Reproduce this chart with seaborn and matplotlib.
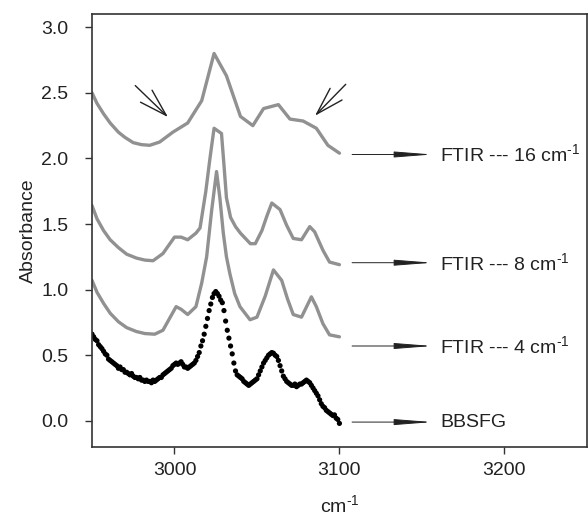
import matplotlib
matplotlib.use("Agg")
import matplotlib.pyplot as plt
import numpy as np
import seaborn as sns

# FTIR spectra (offset for display)
x16 = [2950, 2953, 2957, 2961, 2966, 2970, 2975, 2980, 2985, 2991, 2999, 3008,
       3016.5, 3024, 3031.5, 3040, 3047.5, 3054, 3063, 3070, 3078, 3086, 3093, 3100]
y16 = [2.50, 2.42, 2.34, 2.27, 2.20, 2.16, 2.12, 2.105, 2.10, 2.125, 2.20, 2.27,
       2.44, 2.80, 2.63, 2.32, 2.25, 2.38, 2.41, 2.30, 2.285, 2.23, 2.10, 2.04]

x8 = [2950, 2953, 2957, 2961, 2966, 2971, 2977, 2982, 2987, 2993, 3000, 3004,
      3008, 3013, 3015.5, 3019, 3021.5, 3024, 3028.5, 3030, 3031.5, 3034, 3037,
      3040, 3046, 3049, 3053, 3056, 3059, 3064, 3068, 3072, 3077, 3082, 3085,
      3090, 3094, 3100]
y8 = [1.64, 1.54, 1.45, 1.38, 1.32, 1.27, 1.24, 1.225, 1.22, 1.275, 1.40, 1.40,
      1.38, 1.43, 1.47, 1.75, 2.00, 2.23, 2.19, 1.95, 1.70, 1.55, 1.48,
      1.43, 1.35, 1.35, 1.45, 1.56, 1.66, 1.61, 1.49, 1.39, 1.38, 1.48, 1.44,
      1.30, 1.21, 1.19]

x4 = [2950, 2953, 2957, 2961, 2966, 2971, 2977, 2982, 2988, 2993, 3001, 3004,
      3008, 3013, 3016.5, 3019.5, 3022.5, 3025.5, 3027.5, 3029.6, 3031.5, 3033.6,
      3036.5, 3039.7, 3045.8, 3050, 3055, 3060, 3065, 3068.5, 3072, 3077, 3083,
      3086, 3090, 3094, 3100]
y4 = [1.07, 0.98, 0.895, 0.82, 0.755, 0.71, 0.68, 0.665, 0.66, 0.69, 0.87, 0.85,
      0.81, 0.87, 1.05, 1.25, 1.60, 1.90, 1.70, 1.43, 1.25, 1.12,
      0.97, 0.87, 0.77, 0.79, 0.95, 1.15, 1.07, 0.93, 0.81, 0.79, 0.945,
      0.87, 0.74, 0.655, 0.64]

# BBSFG spectrum, one point per cm-1 from 2950 to 3100
x_sfg = np.arange(2950, 3101)
y_sfg = [0.66, 0.64, 0.62, 0.61, 0.58, 0.565, 0.55, 0.53, 0.51, 0.50,
         0.47, 0.46, 0.45, 0.44, 0.43, 0.42, 0.40, 0.41, 0.39, 0.39,
         0.37, 0.37, 0.36, 0.35, 0.36, 0.34, 0.33, 0.33, 0.32, 0.33,
         0.31, 0.31, 0.30, 0.31, 0.30, 0.30, 0.29, 0.31, 0.30, 0.31,
         0.32, 0.33, 0.33, 0.35, 0.36, 0.37, 0.38, 0.39, 0.40, 0.42,
         0.43, 0.44, 0.43, 0.44, 0.45, 0.43, 0.41, 0.41, 0.40, 0.41,
         0.42, 0.43, 0.44, 0.46, 0.49, 0.52, 0.57, 0.61, 0.66, 0.72,
         0.78, 0.84, 0.89, 0.94, 0.97, 0.985, 0.97, 0.95, 0.92, 0.90,
         0.84, 0.76, 0.69, 0.63, 0.57, 0.51, 0.44, 0.38, 0.35, 0.34,
         0.33, 0.32, 0.30, 0.29, 0.28, 0.27, 0.28, 0.29, 0.30, 0.31,
         0.32, 0.35, 0.38, 0.41, 0.44, 0.46, 0.48, 0.50, 0.51, 0.52,
         0.515, 0.50, 0.49, 0.46, 0.42, 0.38, 0.34, 0.32, 0.30, 0.29,
         0.28, 0.27, 0.27, 0.28, 0.26, 0.27, 0.28, 0.28, 0.29, 0.30,
         0.31, 0.30, 0.29, 0.27, 0.25, 0.23, 0.21, 0.19, 0.16, 0.13,
         0.11, 0.10, 0.08, 0.07, 0.06, 0.05, 0.04, 0.045, 0.02, 0.01,
         -0.02]

labels = ["FTIR --- 16 cm$^{\\text{-1}}$", "FTIR --- 8 cm$^{\\text{-1}}$",
          "FTIR --- 4 cm$^{\\text{-1}}$", "BBSFG"]
label_y = [2.03, 1.205, 0.57, -0.01]

sns.set_style("ticks")
plt.rcParams["font.family"] = ["Liberation Sans", "DejaVu Sans"]
plt.rcParams["mathtext.default"] = "regular"
plt.rcParams["mathtext.fontset"] = "custom"
plt.rcParams["mathtext.rm"] = "Liberation Sans"

fig, ax = plt.subplots(figsize=(5.88, 5.23), dpi=100)
fig.subplots_adjust(left=0.1565, right=0.998, bottom=0.1453, top=0.973)

gray = "#919191"
for xs, ys in [(x16, y16), (x8, y8), (x4, y4)]:
    sns.lineplot(x=xs, y=ys, ax=ax, color=gray, linewidth=2.4, sort=False)
sns.scatterplot(x=x_sfg, y=y_sfg, ax=ax, color="black", s=14, edgecolor="none")

for lab, yy in zip(labels, label_y):
    ax.annotate("", xy=(3158, yy), xytext=(3106, yy),
                arrowprops=dict(arrowstyle="-|>,head_length=2.3,head_width=0.18",
                                color="#222222", lw=0.7, mutation_scale=10))
    ax.text(3161, yy, lab, va="center", ha="left", fontsize=14, color="#222222")

# pointer arrows at the shoulders of the 16 cm-1 spectrum
for start, tip in [((2975, 2.57), (2997.3, 2.30)), ((3105, 2.58), (3084, 2.31))]:
    ax.annotate("", xy=tip, xytext=start,
                arrowprops=dict(arrowstyle="->,head_length=2.0,head_width=0.6",
                                color="#222222", lw=1.0, mutation_scale=10))

ax.set_xlim(2950, 3250)
ax.set_ylim(-0.2, 3.1)
ax.set_xticks([3000, 3100, 3200])
ax.set_yticks([0.0, 0.5, 1.0, 1.5, 2.0, 2.5, 3.0])
ax.set_yticklabels(["0.0", "0.5", "1.0", "1.5", "2.0", "2.5", "3.0"])
ax.tick_params(direction="out", length=5, width=1.0, colors="#333333",
               labelsize=14, labelcolor="#222222", top=False, right=False)
ax.tick_params(axis="y", pad=12)
ax.tick_params(axis="x", pad=6)
for sp in ax.spines.values():
    sp.set_color("#333333")
    sp.set_linewidth(1.2)
ax.set_xlabel("cm$^{\\text{-1}}$", fontsize=14, color="#222222", labelpad=11)
ax.set_ylabel("Absorbance", fontsize=14, color="#222222", labelpad=3)

fig.savefig("out.png", dpi=100)
